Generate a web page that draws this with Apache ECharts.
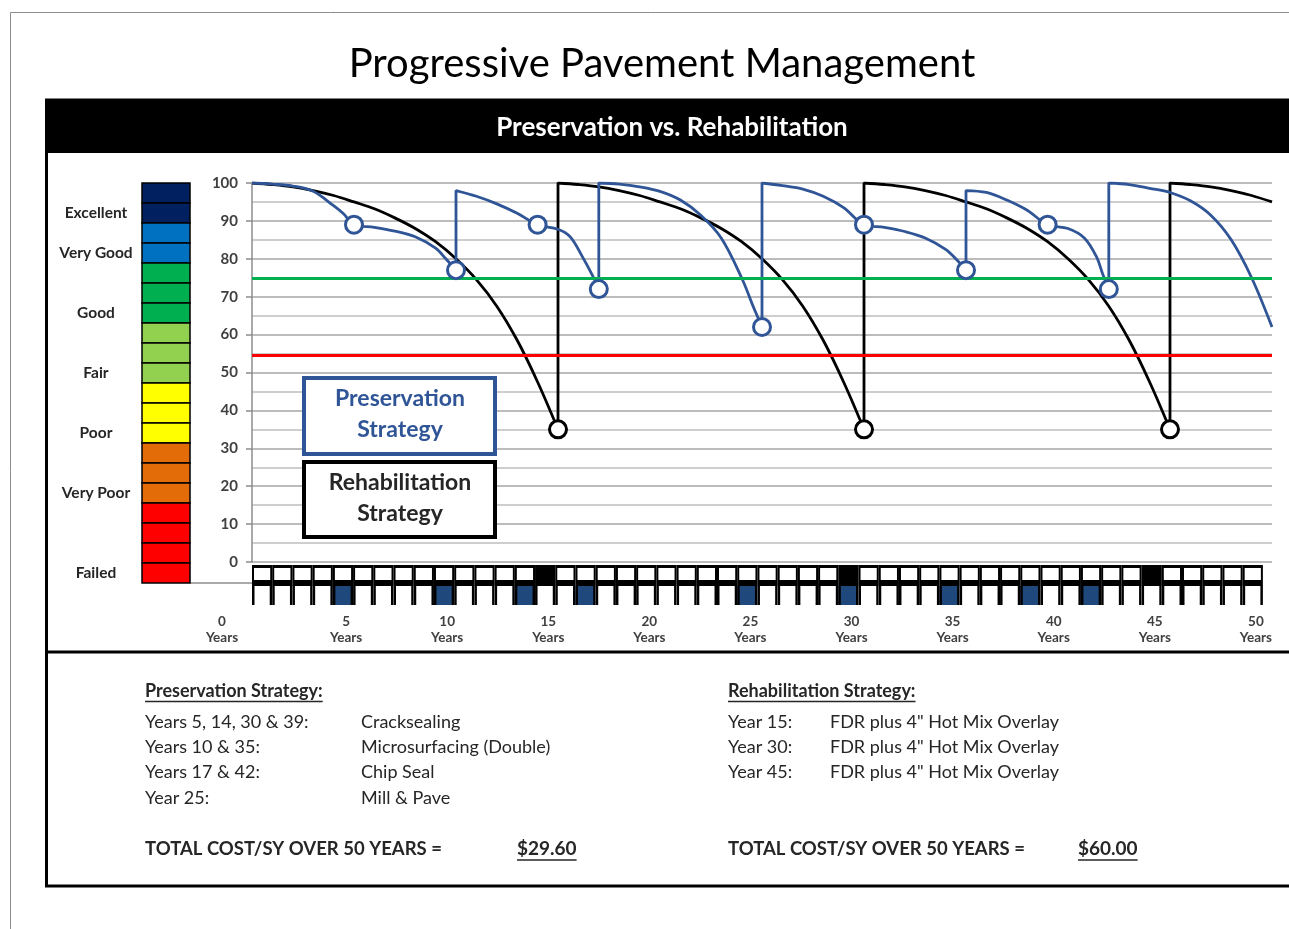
<!DOCTYPE html>
<html>
<head>
<meta charset="utf-8">
<title>Progressive Pavement Management</title>
<script src="https://cdn.jsdelivr.net/npm/echarts@6/dist/echarts.min.js"></script>
<style>
html, body { margin: 0; padding: 0; background: #fff; }
#myChart { width: 1289px; height: 929px; }
</style>
</head>
<body>
<div id="myChart"></div>
<script>
// condition scale on the left
var conditionBands = ['Excellent', 'Very Good', 'Good', 'Fair', 'Poor', 'Very Poor', 'Failed'];
var bandCellCounts = [2, 2, 3, 3, 3, 3, 4];

// pavement condition curves, [year, condition]
var rehabCurve = [
  [0, 100], [1, 99.6], [2, 99], [3, 98], [4, 96.7], [5, 95], [6, 93.2], [7, 90.8], [8, 88], [9, 84.5],
  [10, 80], [11, 74.5], [12, 67.5], [13, 58.5], [14, 47.5], [15, 35],
  [15, 100], [16, 99.6], [17, 99], [18, 98], [19, 96.7], [20, 95], [21, 93.2], [22, 90.8], [23, 88], [24, 84.5],
  [25, 80], [26, 74.5], [27, 67.5], [28, 58.5], [29, 47.5], [30, 35],
  [30, 100], [31, 99.6], [32, 99], [33, 98], [34, 96.7], [35, 95], [36, 93.2], [37, 90.8], [38, 88], [39, 84.5],
  [40, 80], [41, 74.5], [42, 67.5], [43, 58.5], [44, 47.5], [45, 35],
  [45, 100], [46, 99.6], [47, 99], [48, 98], [49, 96.7], [50, 95]
];
var preservationCurve = [
  [0, 100], [1, 99.7], [2, 99.2], [3, 97.8], [4, 94], [4.5, 91.8], [5, 89],
  [6, 88.3], [7, 87.3], [8, 85.8], [9, 82.8], [9.5, 80], [10, 77],
  [10, 98], [11, 96.5], [12, 94.5], [13, 92], [14, 89],
  [15, 87.8], [15.6, 85.8], [16.2, 80.5], [16.7, 75.5], [17, 72],
  [17, 100], [18, 99.7], [19, 99], [20, 97.8], [21, 95.5], [22, 91.5], [23, 85.5], [24, 75], [24.6, 67], [25, 62],
  [25, 100], [26, 99.3], [27, 98.4], [28, 96.5], [29, 93.5], [30, 89],
  [31, 88.3], [32, 87.2], [33, 85.5], [34, 82.5], [34.5, 80], [35, 77],
  [35, 98], [36, 97.5], [37, 95.5], [38, 92.8], [39, 89],
  [40, 88], [40.8, 85.5], [41.4, 80.5], [41.7, 76], [42, 72],
  [42, 100], [43, 99.6], [44, 98.6], [45, 97.5], [46, 95.3], [47, 91.5], [48, 85], [49, 75], [50, 62]
];
// treatment points
var rehabEvents = [[15, 35], [30, 35], [45, 35]];
var preservationEvents = [[5, 89], [10, 77], [14, 89], [17, 72], [25, 62], [30, 89], [35, 77], [39, 89], [42, 72]];
var goodLevel = 75;
var poorLevel = 54.5;
var lastYear = 50;

var preservationPlan = [
  ['Years 5, 14, 30 & 39:', 'Cracksealing'],
  ['Years 10 & 35:', 'Microsurfacing (Double)'],
  ['Years 17 & 42:', 'Chip Seal'],
  ['Year 25:', 'Mill & Pave']
];
var rehabPlan = [
  ['Year 15:', 'FDR plus 4" Hot Mix Overlay'],
  ['Year 30:', 'FDR plus 4" Hot Mix Overlay'],
  ['Year 45:', 'FDR plus 4" Hot Mix Overlay']
];
var totalLabel = 'TOTAL COST/SY OVER 50 YEARS =';
var preservationTotal = '$29.60';
var rehabTotal = '$60.00';

var FONT = 'Lato, "Open Sans", sans-serif';
var bandColors = ['#002060', '#0070C0', '#00B050', '#92D050', '#FFFF00', '#E36C09', '#FF0000'];
var presBlue = '#2F5597';
var inkColor = '#262626';

// colour bar cells, one row per cell
var barCells = [];
var lastCellOfBand = {};
conditionBands.forEach(function (name, b) {
  for (var k = 0; k < bandCellCounts[b]; k++) barCells.push([0, barCells.length, b]);
  lastCellOfBand[barCells.length - 1] = name;
});

// time line cells
var rehabYears = rehabEvents.map(function (d) { return d[0]; });
var presYears = preservationEvents.map(function (d) { return d[0]; });
var timelineCells = [];
for (var yr = 1; yr <= lastYear; yr++) {
  timelineCells.push([yr, rehabYears.indexOf(yr) >= 0 ? 1 : 0, presYears.indexOf(yr) >= 0 ? 1 : 0]);
}

var ctx = document.createElement('canvas').getContext('2d');
function textWidth(t, font) { ctx.font = font; return ctx.measureText(t).width; }

function txt(x, y, text, size, weight, color, align) {
  return {
    type: 'text', x: x, y: y, z: 50,
    style: { text: text, fill: color || inkColor, font: (weight || 'normal') + ' ' + size + 'px ' + FONT,
      align: align || 'left', verticalAlign: 'middle' }
  };
}
function underlined(x, y, text, size, weight) {
  var w = textWidth(text, weight + ' ' + size + 'px ' + FONT);
  return [txt(x, y, text, size, weight),
    { type: 'line', z: 50, shape: { x1: x, y1: y + size * 0.58, x2: x + w, y2: y + size * 0.58 },
      style: { stroke: inkColor, lineWidth: 1.5 } }];
}

var graphics = [
  { type: 'rect', z: -10, shape: { x: 10.5, y: 12.5, width: 1400, height: 1000 }, style: { fill: 'none', stroke: '#8c8c8c', lineWidth: 1 } },
  { type: 'rect', z: -5, shape: { x: 46.5, y: 100, width: 1400, height: 786 }, style: { fill: 'none', stroke: '#000', lineWidth: 3 } },
  { type: 'rect', z: -5, shape: { x: 45, y: 99, width: 1400, height: 54 }, style: { fill: '#000' } },
  txt(672, 128, 'Preservation vs. Rehabilitation', 26, 'bold', '#fff', 'center'),
  { type: 'line', z: -5, shape: { x1: 45, y1: 652, x2: 1400, y2: 652 }, style: { stroke: '#000', lineWidth: 3 } },
  { type: 'line', z: -5, shape: { x1: 190, y1: 583, x2: 252, y2: 583 }, style: { stroke: '#8c8c8c', lineWidth: 1.5 } },
  // legend boxes
  { type: 'rect', z: 40, shape: { x: 304, y: 378, width: 191, height: 76 }, style: { fill: '#fff', stroke: presBlue, lineWidth: 4 } },
  txt(400, 399, 'Preservation', 23, 'bold', presBlue, 'center'),
  txt(400, 430, 'Strategy', 23, 'bold', presBlue, 'center'),
  { type: 'rect', z: 40, shape: { x: 304, y: 462, width: 191, height: 75 }, style: { fill: '#fff', stroke: '#000', lineWidth: 4 } },
  txt(400, 483, 'Rehabilitation', 23, 'bold', inkColor, 'center'),
  txt(400, 514, 'Strategy', 23, 'bold', inkColor, 'center')
];
graphics = graphics.concat(underlined(145, 691, 'Preservation Strategy:', 18, 'bold'));
graphics = graphics.concat(underlined(728, 691, 'Rehabilitation Strategy:', 18, 'bold'));
preservationPlan.forEach(function (r, i) {
  graphics.push(txt(145, 722 + i * 25.3, r[0], 18));
  graphics.push(txt(361, 722 + i * 25.3, r[1], 18));
});
rehabPlan.forEach(function (r, i) {
  graphics.push(txt(728, 722 + i * 25.3, r[0], 18));
  graphics.push(txt(830, 722 + i * 25.3, r[1], 18));
});
graphics.push(txt(145, 849, totalLabel, 18.5, 'bold'));
graphics = graphics.concat(underlined(517, 849, preservationTotal, 19, 'bold'));
graphics.push(txt(728, 849, totalLabel, 18.5, 'bold'));
graphics = graphics.concat(underlined(1078, 849, rehabTotal, 19, 'bold'));

var myChart = echarts.init(document.getElementById('myChart'));
myChart.setOption({
  animation: false,
  title: {
    text: 'Progressive Pavement Management',
    left: 657, top: 39, textAlign: 'center',
    textStyle: { fontFamily: FONT, fontSize: 40, fontWeight: 'normal', color: '#000' }
  },
  graphic: graphics,
  grid: [
    { left: 252, top: 183, width: 1020, height: 379 },   // curves
    { left: 252, top: 565, width: 1020, height: 40 },    // time line
    { left: 142, top: 183, width: 48, height: 400 }      // colour bar
  ],
  xAxis: [
    { gridIndex: 0, type: 'value', min: 0, max: lastYear, show: false },
    {
      gridIndex: 1, type: 'value', min: 0, max: lastYear, interval: 5,
      axisLine: { show: false }, axisTick: { show: false }, splitLine: { show: false },
      axisLabel: {
        margin: 9, showMaxLabel: true, lineHeight: 16,
        formatter: function (v) { return v === 0 ? '{z|0}\n{z|Years}' : '{n|' + v + '}\n{n|Years}'; },
        rich: {
          n: { fontFamily: FONT, fontSize: 13.5, fontWeight: 'bold', color: '#404040', padding: [0, 14, 0, 0], lineHeight: 16 },
          z: { fontFamily: FONT, fontSize: 13.5, fontWeight: 'bold', color: '#404040', padding: [0, 60, 0, 0], lineHeight: 16 }
        }
      }
    },
    { gridIndex: 2, type: 'category', data: ['c'], show: false }
  ],
  yAxis: [
    {
      gridIndex: 0, type: 'value', min: 0, max: 100, interval: 10,
      axisLine: { show: true, lineStyle: { color: '#8c8c8c', width: 1.5 } },
      axisTick: { show: true, length: 6, lineStyle: { color: '#8c8c8c', width: 1.5 } },
      axisLabel: { margin: 14, fontFamily: FONT, fontSize: 15, fontWeight: 'bold', color: '#404040' },
      splitLine: { lineStyle: { color: '#a6a6a6', width: 1.5 } },
      minorTick: { show: false, splitNumber: 2 },
      minorSplitLine: { show: true, lineStyle: { color: '#bfbfbf', width: 1.5 } }
    },
    { gridIndex: 1, type: 'value', min: 0, max: 1, show: false },
    {
      gridIndex: 2, type: 'category', inverse: true,
      data: barCells.map(function (c) { return String(c[1]); }),
      axisLine: { show: false }, axisTick: { show: false },
      axisLabel: {
        interval: 0, margin: 46, align: 'center',
        fontFamily: FONT, fontSize: 15.5, fontWeight: 'bold', color: inkColor,
        formatter: function (v, i) { return lastCellOfBand[i] || ''; }
      }
    }
  ],
  series: [
    {
      type: 'line', xAxisIndex: 0, yAxisIndex: 0, data: [], silent: true,
      markLine: {
        silent: true, symbol: ['none', 'none'], label: { show: false },
        lineStyle: { type: 'solid', width: 3 },
        data: [
          { yAxis: goodLevel, lineStyle: { color: '#00B050' } },
          { yAxis: poorLevel, lineStyle: { color: '#FF0000' } }
        ]
      }
    },
    {
      name: 'Rehabilitation Strategy', type: 'line', xAxisIndex: 0, yAxisIndex: 0,
      data: rehabCurve, smooth: 0.35, showSymbol: false, z: 3,
      lineStyle: { color: '#000', width: 2.8 }
    },
    {
      name: 'Preservation Strategy', type: 'line', xAxisIndex: 0, yAxisIndex: 0,
      data: preservationCurve, smooth: 0.35, showSymbol: false, z: 4,
      lineStyle: { color: presBlue, width: 2.8 }
    },
    {
      type: 'scatter', xAxisIndex: 0, yAxisIndex: 0, data: rehabEvents, symbolSize: 17, z: 6,
      itemStyle: { color: '#fff', borderColor: '#000', borderWidth: 3, opacity: 1 }
    },
    {
      type: 'scatter', xAxisIndex: 0, yAxisIndex: 0, data: preservationEvents, symbolSize: 17, z: 6,
      itemStyle: { color: '#fff', borderColor: presBlue, borderWidth: 3, opacity: 1 }
    },
    {
      type: 'custom', xAxisIndex: 1, yAxisIndex: 1, data: timelineCells, silent: true,
      renderItem: function (params, api) {
        var y = api.value(0);
        var p0 = api.coord([y - 1, 1]);
        var p1 = api.coord([y, 0]);
        var x0 = p0[0], x1 = p1[0], top = p0[1], bot = p1[1];
        var w = x1 - x0, mid = top + 21;
        var kids = [
          { type: 'rect', shape: { x: x0, y: top, width: w, height: mid - top }, style: { fill: '#000' } },
          { type: 'rect', shape: { x: x0, y: mid, width: w, height: bot - mid }, style: { fill: api.value(2) ? '#1F497D' : '#fff' } },
          { type: 'rect', shape: { x: x0, y: mid, width: 2.5, height: bot - mid }, style: { fill: '#000' } },
          { type: 'rect', shape: { x: x1 - 2.5, y: mid, width: 2.5, height: bot - mid }, style: { fill: '#000' } }
        ];
        if (!api.value(1)) {
          kids.push({ type: 'rect', shape: { x: x0 + 2, y: top + 3, width: w - 4, height: 12 }, style: { fill: '#fff' } });
        }
        return { type: 'group', children: kids };
      }
    },
    {
      type: 'custom', xAxisIndex: 2, yAxisIndex: 2, data: barCells, silent: true,
      renderItem: function (params, api) {
        var c = api.coord([0, api.value(1)]);
        var h = api.size([0, 1])[1];
        var cs = params.coordSys;
        return {
          type: 'rect',
          shape: { x: cs.x, y: c[1] - h / 2, width: cs.width, height: h },
          style: { fill: bandColors[api.value(2)], stroke: '#000', lineWidth: 1.5 }
        };
      }
    }
  ]
});
</script>
</body>
</html>
